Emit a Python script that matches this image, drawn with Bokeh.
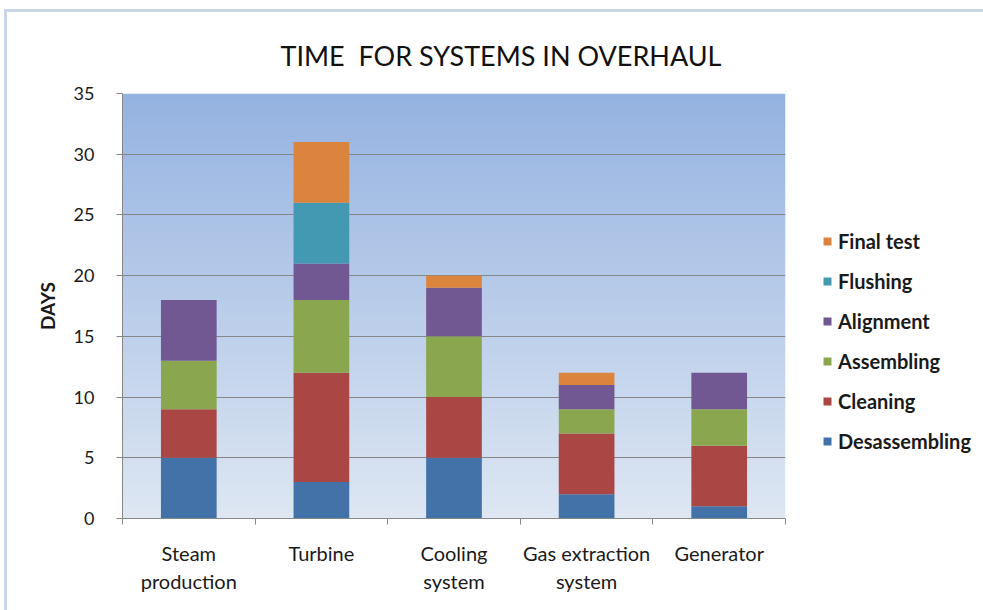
import numpy as np
from bokeh.plotting import figure
from bokeh.models import (ColumnDataSource, FixedTicker, Legend, LegendItem, Title)
from bokeh.layouts import column
from bokeh.embed import file_html
from bokeh.resources import INLINE

# Overhaul durations (days) per system and task
systems = ["Steam\nproduction", "Turbine", "Cooling\nsystem", "Gas extraction\nsystem", "Generator"]
desassembling = [5, 3, 5, 2, 1]
cleaning = [4, 9, 5, 5, 5]
assembling = [4, 6, 5, 2, 3]
alignment = [5, 3, 4, 2, 3]
flushing = [0, 5, 0, 0, 0]
final_test = [0, 5, 1, 1, 0]

tasks = ["Desassembling", "Cleaning", "Assembling", "Alignment", "Flushing", "Final test"]
colors = ["#4372a9", "#aa4643", "#8aa64f", "#725893", "#4399b1", "#db843d"]
y_ticks = [0, 5, 10, 15, 20, 25, 30, 35]

FONT = "Lato"
x_centers = [i + 0.5 for i in range(len(systems))]

data = dict(x=x_centers)
for name, vals in zip(tasks, [desassembling, cleaning, assembling, alignment, flushing, final_test]):
    data[name] = vals
source = ColumnDataSource(data)

p = figure(width=976, height=598, x_range=(0, len(systems)), y_range=(0, 35),
           output_backend="svg", toolbar_location=None,
           frame_width=663, frame_height=425,
           min_border_left=115, min_border_right=198, min_border_top=81, min_border_bottom=92)
p.background_fill_color = None
p.border_fill_color = "white"
p.outline_line_color = None

# vertical gradient behind the plot area
ny = 256
top = np.array([0x95, 0xb3, 0xe1], dtype=float)
bot = np.array([0xde, 0xe7, 0xf3], dtype=float)
t = np.linspace(0, 1, ny)[:, None]
rgb = (bot * (1 - t) + top * t).astype(np.uint8)
img = np.zeros((ny, 2), dtype=np.uint32)
view = img.view(dtype=np.uint8).reshape((ny, 2, 4))
view[:, :, 0] = rgb[:, 0][:, None]
view[:, :, 1] = rgb[:, 1][:, None]
view[:, :, 2] = rgb[:, 2][:, None]
view[:, :, 3] = 255
p.image_rgba(image=[img], x=0, y=0, dw=len(systems), dh=35, level="image")

renderers = p.vbar_stack(tasks, x="x", width=0.42, source=source, color=colors, line_color=None)

# axes
p.yaxis.ticker = FixedTicker(ticks=y_ticks)
p.yaxis.axis_line_color = "#868686"
p.yaxis.major_tick_line_color = "#868686"
p.yaxis.major_tick_out = 6
p.yaxis.major_tick_in = 0
p.yaxis.minor_tick_line_color = None
p.yaxis.major_label_text_font = FONT
p.yaxis.major_label_text_font_size = "18px"
p.yaxis.major_label_text_color = "#1a1a1a"
p.yaxis.major_label_standoff = 22
p.yaxis.axis_label = "DAYS"
p.yaxis.axis_label_text_font = FONT
p.yaxis.axis_label_text_font_style = "bold"
p.yaxis.axis_label_text_font_size = "19px"
p.yaxis.axis_label_text_color = "#1a1a1a"
p.yaxis.axis_label_standoff = 12

p.xaxis.ticker = FixedTicker(ticks=x_centers, minor_ticks=list(range(len(systems) + 1)))
p.xaxis.major_label_overrides = {c: s for c, s in zip(x_centers, systems)}
p.xaxis.axis_line_color = "#868686"
p.xaxis.major_tick_line_color = None
p.xaxis.minor_tick_line_color = "#868686"
p.xaxis.minor_tick_out = 6
p.xaxis.minor_tick_in = 0
p.xaxis.major_label_text_font = FONT
p.xaxis.major_label_text_font_size = "20px"
p.xaxis.major_label_text_color = "#1a1a1a"
p.xaxis.major_label_text_line_height = 1.2
p.xaxis.major_label_standoff = 16

p.xgrid.grid_line_color = None
p.ygrid.grid_line_color = "#868686"
p.ygrid.grid_line_width = 1

# title
p.add_layout(Title(text="TIME\u00a0 FOR SYSTEMS IN OVERHAUL", align="left", offset=158,
                   standoff=44, text_font=FONT, text_font_size="27px",
                   text_font_style="normal", text_color="#111111"), "above")

# legend, topmost task first
items = [LegendItem(label=name, renderers=[r]) for name, r in zip(tasks, renderers)][::-1]
legend = Legend(items=items, location=(37, 65), orientation="vertical",
                glyph_width=10, glyph_height=10, label_height=20, spacing=16,
                padding=0, margin=0, label_standoff=6,
                label_text_font=FONT, label_text_font_size="20px",
                label_text_font_style="bold", label_text_color="#1a1a1a",
                border_line_color=None, background_fill_alpha=0)
p.add_layout(legend, "right")

layout = column(p, styles={"margin-left": "4px", "margin-top": "9px",
                           "border-top": "3px solid #cad6e6",
                           "border-left": "3px solid #cad6e6"})

open("out.html", "w").write(file_html(layout, INLINE))
